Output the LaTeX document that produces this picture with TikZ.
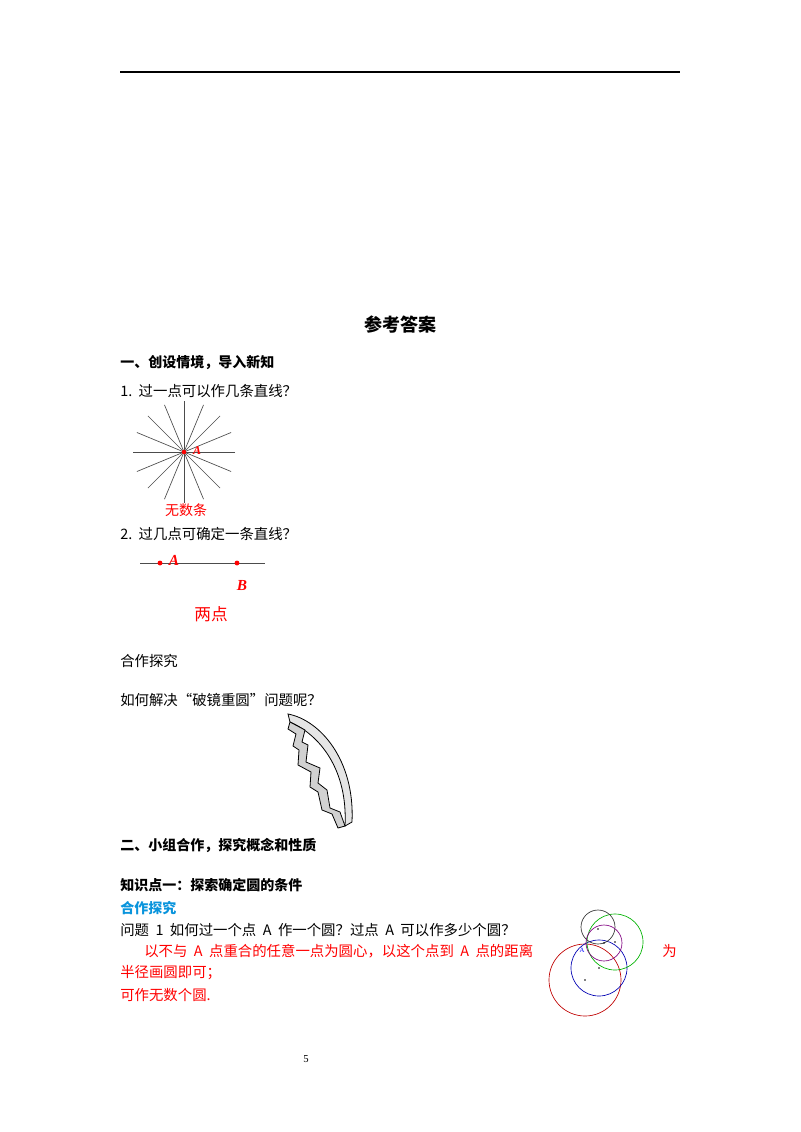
\documentclass[tikz,border=0pt]{standalone}
\usepackage{fontspec}
\usetikzlibrary{calc}
\setmainfont{Liberation Serif}
\newfontfamily\cjk{Noto Sans CJK SC}
\begin{document}
\begin{tikzpicture}[x=0.75pt,y=-0.75pt,
  txt/.style={anchor=west,inner sep=0,font=\cjk\fontsize{10.8}{12}\selectfont},
  bld/.style={txt,font=\cjk\bfseries\fontsize{10.5}{12}\selectfont},
  rtxt/.style={txt,text=red},
  ray/.style={draw=black!70,line width=0.5pt},
  dot/.style={circle,fill=red,inner sep=1.3pt}]
\useasboundingbox (0,0) rectangle (800,1132);
\draw[line width=0.8pt] (120,72) -- (680,72);
\node[font=\cjk\bfseries\fontsize{13.5}{15}\selectfont] (title) at (400,325) {参考答案};
\node[bld] (h1) at (120,363) {一、创设情境，导入新知};
\node[txt] (q1) at (120,391) {1.\ \ 过一点可以作几条直线？};
\coordinate (c) at (184,452);
\foreach \a in {0,22.5,...,157.5} \draw[ray] ($(c)+(\a:51)$) -- ($(c)+(\a+180:51)$);
\node[dot,inner sep=1.2pt] (ca) at (c) {};
\node[text=red,font=\itshape\bfseries\fontsize{9}{10}\selectfont,inner sep=0] (la) at (197,451) {A};
\node[rtxt,anchor=center,font=\cjk\fontsize{10.5}{12}\selectfont] (wu) at (186,510) {无数条};
\node[txt] (q2) at (120,534) {2.\ \ 过几点可确定一条直线？};
\draw[ray] (140,563) -- (265,563);
\node[dot] (pa) at (160,563) {};
\node[dot] (pb) at (237,563) {};
\node[text=red,font=\bfseries\itshape\fontsize{11.5}{12}\selectfont,inner sep=0] (lA) at (174,560) {A};
\node[text=red,font=\bfseries\itshape\fontsize{11.5}{12}\selectfont,inner sep=0] (lB) at (242,585) {B};
\node[text=red,font=\cjk\fontsize{12.5}{14}\selectfont,inner sep=0] (two) at (211,614) {两点};
\node[txt] (hz) at (120,661) {合作探究};
\node[txt] (rs) at (120,700) {如何解决“破镜重圆”问题呢？};
% broken mirror
\filldraw[fill=black!10,line width=0.6pt] (288,714) .. controls (320,720) and (355,760) .. (352,822)
  -- (345,826) .. controls (348,770) and (320,735) .. (290,722) -- cycle;
\filldraw[fill=black!18,line width=0.6pt] (290,722) -- (305,730) -- (302,742) -- (308,745) -- (306,762) -- (320,768) -- (318,783) -- (327,790) -- (330,808) -- (340,812) -- (345,826) -- (338,828) -- (332,814) -- (322,810) -- (318,792) -- (310,787) -- (311,772) -- (298,765) -- (299,750) -- (293,746) -- (296,734) -- (288,729) -- cycle;
\node[bld] (h2) at (120,845) {二、小组合作，探究概念和性质};
\node[bld] (k1) at (120,885) {知识点一：探索确定圆的条件};
\node[bld,text=cyan!80!blue] (hz2) at (120,908) {合作探究};
\node[txt] (p1) at (120,930) {问题\ \ 1\ \ 如何过一个点\ \ A\ \ 作一个圆？过点\ \ A\ \ 可以作多少个圆？};
\node[rtxt] (a1) at (144,951) {以不与\ \ A\ \ 点重合的任意一点为圆心，以这个点到\ \ A\ \ 点的距离};
\node[rtxt] (a1b) at (662,951) {为};
\node[rtxt] (a2) at (120,973) {半径画圆即可；};
\node[rtxt] (a3) at (120,995) {可作无数个圆.};
% circles
\draw[red!75!black,line width=0.5pt] (585,980) circle (36);
\draw[blue!70!black,line width=0.5pt] (599,968) circle (28);
\draw[green!70!black,line width=0.5pt] (615,942) circle (28);
\draw[black!80,line width=0.5pt] (598,927) circle (17);
\draw[violet,line width=0.5pt] (604,943) circle (18);
\foreach \p in {(585,980),(599,968),(598,929),(604,943),(615,942)} \fill \p circle (0.8);
\node[text=blue,font=\fontsize{5}{6}\selectfont,inner sep=0] (ptA) at (582,950) {A};
\node[font=\fontsize{8}{9}\selectfont] (pg) at (306,1059) {5};
\end{tikzpicture}
\end{document}
